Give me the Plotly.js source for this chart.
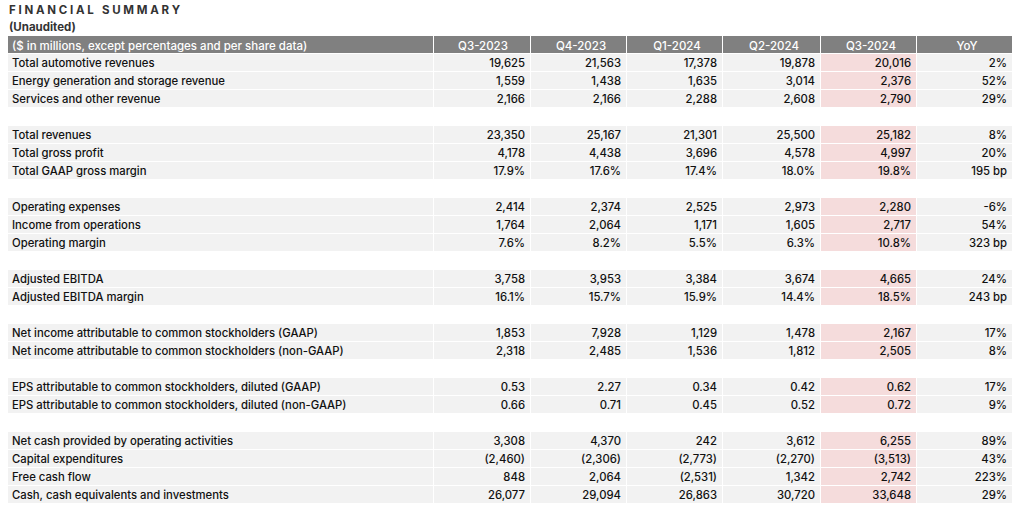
<!DOCTYPE html>
<html>
<head>
<meta charset="utf-8">
<script src="https://cdn.plot.ly/plotly-3.0.1.min.js"></script>
<style>html,body{margin:0;padding:0;background:#fff;}#chart{width:1024px;height:521px;}</style>
</head>
<body>
<div id="chart"></div>
<script>
var headers = ["($ in millions, except percentages and per share data)", "Q3-2023", "Q4-2023", "Q1-2024", "Q2-2024", "Q3-2024", "YoY"];

var labels = [
  "Total automotive revenues", "Energy generation and storage revenue", "Services and other revenue", "",
  "Total revenues", "Total gross profit", "Total GAAP gross margin", "",
  "Operating expenses", "Income from operations", "Operating margin", "",
  "Adjusted EBITDA", "Adjusted EBITDA margin", "",
  "Net income attributable to common stockholders (GAAP)", "Net income attributable to common stockholders (non-GAAP)", "",
  "EPS attributable to common stockholders, diluted (GAAP)", "EPS attributable to common stockholders, diluted (non-GAAP)", "",
  "Net cash provided by operating activities", "Capital expenditures", "Free cash flow", "Cash, cash equivalents and investments"
];
var q3_2023 = ["19,625","1,559","2,166","", "23,350","4,178","17.9%","", "2,414","1,764","7.6%","", "3,758","16.1%","", "1,853","2,318","", "0.53","0.66","", "3,308","(2,460)","848","26,077"];
var q4_2023 = ["21,563","1,438","2,166","", "25,167","4,438","17.6%","", "2,374","2,064","8.2%","", "3,953","15.7%","", "7,928","2,485","", "2.27","0.71","", "4,370","(2,306)","2,064","29,094"];
var q1_2024 = ["17,378","1,635","2,288","", "21,301","3,696","17.4%","", "2,525","1,171","5.5%","", "3,384","15.9%","", "1,129","1,536","", "0.34","0.45","", "242","(2,773)","(2,531)","26,863"];
var q2_2024 = ["19,878","3,014","2,608","", "25,500","4,578","18.0%","", "2,973","1,605","6.3%","", "3,674","14.4%","", "1,478","1,812","", "0.42","0.52","", "3,612","(2,270)","1,342","30,720"];
var q3_2024 = ["20,016","2,376","2,790","", "25,182","4,997","19.8%","", "2,280","2,717","10.8%","", "4,665","18.5%","", "2,167","2,505","", "0.62","0.72","", "6,255","(3,513)","2,742","33,648"];
var yoy     = ["2%","52%","29%","", "8%","20%","195 bp","", "-6%","54%","323 bp","", "24%","243 bp","", "17%","8%","", "17%","9%","", "89%","43%","223%","29%"];

var columns = [labels, q3_2023, q4_2023, q1_2024, q2_2024, q3_2024, yoy];

var GRAY = "#f2f2f2", PINK = "#f5dcdc", WHITE = "#ffffff", CLEAR = "rgba(0,0,0,0)";
var fills = columns.map(function (col, ci) {
  return labels.map(function (l) {
    if (l === "") return WHITE;
    return ci === 5 ? PINK : GRAY;
  });
});
var blankCols = columns.map(function (col) { return col.map(function () { return ""; }); });
var blankHead = headers.map(function () { return ""; });

var W = 1024, H = 521;
var FONT = "Inter, Arial, sans-serif";

// background table: fills and white separators
var fillTable = {
  type: "table",
  domain: {x: [7 / W, 1012 / W], y: [0, 1 - 35 / H]},
  columnwidth: [426, 97, 96, 96, 98, 96, 96],
  header: {
    values: blankHead,
    fill: {color: "#808080"},
    line: {color: WHITE, width: 1},
    font: {family: FONT, size: 11.5, color: WHITE},
    height: 18
  },
  cells: {
    values: blankCols,
    fill: {color: fills},
    line: {color: WHITE, width: 1},
    font: {family: FONT, size: 11.5, color: "#111111"},
    height: 18
  }
};

// text table on top, transparent
var textTable = {
  type: "table",
  domain: {x: [4 / W, 1015 / W], y: [0, 1 - 33 / H]},
  columnwidth: [429, 100, 96, 96, 98, 96, 96],
  header: {
    values: headers,
    align: ["left", "center", "center", "center", "center", "center", "center"],
    fill: {color: CLEAR},
    line: {color: CLEAR, width: 0},
    font: {family: FONT, size: 11.5, color: WHITE, weight: 500},
    height: 18
  },
  cells: {
    values: columns,
    align: ["left", "right", "right", "right", "right", "right", "right"],
    fill: {color: CLEAR},
    line: {color: CLEAR, width: 0},
    font: {family: FONT, size: 11.3, color: "#111111", weight: 500},
    height: 18
  }
};

var layout = {
  width: W, height: H,
  margin: {l: 0, r: 0, t: 0, b: 0},
  paper_bgcolor: WHITE,
  showlegend: false,
  annotations: [
    {text: "<b>F I N A N C I A L   S U M M A R Y</b>", xref: "paper", yref: "paper", x: 7 / W, y: 1 - 1 / H,
     xanchor: "left", yanchor: "top", showarrow: false,
     font: {family: FONT, size: 11.5, color: "#333333"}},
    {text: "<b>(Unaudited)</b>", xref: "paper", yref: "paper", x: 7 / W, y: 1 - 18 / H,
     xanchor: "left", yanchor: "top", showarrow: false,
     font: {family: FONT, size: 11.5, color: "#333333"}}
  ]
};

Plotly.newPlot("chart", [fillTable, textTable], layout, {displayModeBar: false, staticPlot: true});
</script>
</body>
</html>
